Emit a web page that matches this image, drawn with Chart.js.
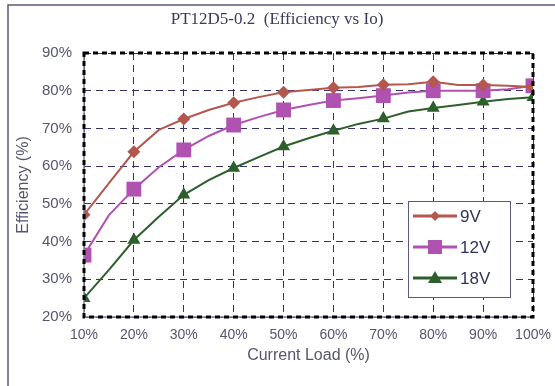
<!DOCTYPE html>
<html>
<head>
<meta charset="utf-8">
<script src="https://cdn.jsdelivr.net/npm/chart.js@4"></script>
<style>
  html, body { margin: 0; padding: 0; background: #ffffff; }
  #wrap { width: 555px; height: 386px; position: relative; }
</style>
</head>
<body>
<div id="wrap"><canvas id="c" width="555" height="386"></canvas></div>
<script>
// ---- data ----
const loads = [10, 15, 20, 25, 30, 35, 40, 45, 50, 55, 60, 65, 70, 75, 80, 85, 90, 95, 100];
const eff9V  = [47.1, 55.5, 63.8, 69.6, 72.5, 74.9, 76.8, 78.3, 79.6, 80.2, 80.8, 81.0, 81.6, 81.7, 82.4, 81.5, 81.5, 81.3, 81.0];
const eff12V = [36.4, 47.0, 53.9, 59.7, 64.3, 68.0, 70.9, 73.0, 74.9, 76.2, 77.4, 78.0, 78.7, 79.5, 80.0, 80.0, 80.0, 80.4, 81.3];
const eff18V = [25.0, 32.5, 40.4, 46.6, 52.4, 56.3, 59.5, 62.4, 65.2, 67.4, 69.4, 71.2, 72.6, 74.5, 75.4, 76.2, 77.1, 77.8, 78.3];
const seriesNames = ['9V', '12V', '18V'];
const xTicks = [10, 20, 30, 40, 50, 60, 70, 80, 90, 100];
const yTicks = [20, 30, 40, 50, 60, 70, 80, 90];
const chartTitle = 'PT12D5-0.2  (Efficiency vs Io)';
const xTitle = 'Current Load (%)';
const yTitle = 'Efficiency (%)';

const colors = ['#b3574f', '#b052b0', '#2d5f2d'];
const styles = ['rectRot', 'rect', 'triangle'];
const radii = [6.5, 10.5, 7.5];

function toPoints(arr) { return loads.map((x, i) => ({ x: x, y: arr[i] })); }
const markerRadius = (r) => (ctx) => (loads[ctx.dataIndex] % 10 === 0 ? r : 0);

const datasets = [eff9V, eff12V, eff18V].map((arr, k) => ({
  label: seriesNames[k],
  data: toPoints(arr),
  borderColor: colors[k],
  backgroundColor: colors[k],
  pointBackgroundColor: colors[k],
  pointBorderColor: colors[k],
  pointStyle: styles[k],
  pointRadius: markerRadius(radii[k]),
  pointBorderWidth: 0,
  borderWidth: 2,
  tension: 0
}));

const decor = {
  id: 'decor',
  beforeDraw(chart) {
    const ctx = chart.ctx;
    ctx.save();
    ctx.fillStyle = '#ffffff';
    ctx.fillRect(0, 0, chart.width, chart.height);
    // outer frame (top and left)
    ctx.strokeStyle = '#5a5a7e';
    ctx.lineWidth = 1.5;
    ctx.beginPath();
    ctx.moveTo(8, 386);
    ctx.lineTo(8, 5);
    ctx.lineTo(555, 5);
    ctx.stroke();
    // title
    ctx.fillStyle = '#3a3a5c';
    ctx.font = '17px "Liberation Serif", "DejaVu Serif", serif';
    ctx.textAlign = 'center';
    ctx.textBaseline = 'middle';
    ctx.fillText(chartTitle, 277, 20);
    ctx.restore();
  },
  afterDatasetsDraw(chart) {
    const ctx = chart.ctx;
    const a = chart.chartArea;
    ctx.save();
    // thin grey axis lines
    ctx.strokeStyle = '#7a7a9a';
    ctx.lineWidth = 1.5;
    ctx.beginPath();
    ctx.moveTo(a.left, a.top);
    ctx.lineTo(a.left, a.bottom);
    ctx.lineTo(a.right, a.bottom);
    ctx.stroke();
    // black dashed plot frame
    ctx.strokeStyle = '#000000';
    ctx.lineWidth = 3;
    ctx.setLineDash([5, 4]);
    ctx.strokeRect(a.left, a.top, a.right - a.left, a.bottom - a.top);
    ctx.setLineDash([]);
    ctx.restore();
  },
  afterDraw(chart) {
    const ctx = chart.ctx;
    ctx.save();
    // legend box
    const bx = 408, by = 201, bw = 102, bh = 96;
    ctx.fillStyle = '#ffffff';
    ctx.fillRect(bx, by, bw, bh);
    ctx.strokeStyle = '#5a5a7e';
    ctx.lineWidth = 1;
    ctx.strokeRect(bx + 0.5, by + 0.5, bw, bh);
    const rows = [216, 247, 278];
    chart.data.datasets.forEach((ds, k) => {
      const y = rows[k];
      ctx.strokeStyle = ds.borderColor;
      ctx.lineWidth = 3;
      ctx.beginPath();
      ctx.moveTo(413, y);
      ctx.lineTo(457, y);
      ctx.stroke();
      ctx.fillStyle = ds.borderColor;
      const cx = 435;
      ctx.beginPath();
      if (k === 0) {
        ctx.moveTo(cx, y - 5); ctx.lineTo(cx + 5, y); ctx.lineTo(cx, y + 5); ctx.lineTo(cx - 5, y);
      } else if (k === 1) {
        ctx.rect(cx - 7, y - 7, 14, 14);
      } else {
        ctx.moveTo(cx, y - 7); ctx.lineTo(cx + 7, y + 5); ctx.lineTo(cx - 7, y + 5);
      }
      ctx.closePath();
      ctx.fill();
      ctx.fillStyle = '#33335a';
      ctx.font = '17px "Liberation Sans", Arial, sans-serif';
      ctx.textAlign = 'left';
      ctx.textBaseline = 'middle';
      ctx.fillText(ds.label, 460, y + 1);
    });
    ctx.restore();
  }
};

const tickFont = { family: '"Liberation Sans", Arial, sans-serif', size: 14 };
const gridStyle = { color: '#34346a', lineWidth: 1, drawTicks: false };

new Chart(document.getElementById('c'), {
  type: 'line',
  data: { datasets: datasets },
  options: {
    responsive: false,
    animation: false,
    devicePixelRatio: 1,
    layout: { padding: { left: 8, right: 22, top: 53, bottom: 21 } },
    plugins: { legend: { display: false }, title: { display: false }, tooltip: { enabled: false } },
    scales: {
      x: {
        type: 'linear',
        min: 10, max: 100,
        afterBuildTicks(scale) { scale.ticks = xTicks.map(v => ({ value: v })); },
        afterFit(scale) { scale.height = 48; scale.paddingRight = 0; scale.paddingLeft = 0; },
        ticks: { callback: v => v + '%', color: '#55556e', font: tickFont, padding: 10, maxRotation: 0, autoSkip: false },
        grid: gridStyle,
        border: { display: false, dash: [7, 5] },
        title: { display: true, text: xTitle, color: '#55556e', font: { family: '"Liberation Sans", Arial, sans-serif', size: 16 }, padding: { top: 2, bottom: 0 } }
      },
      y: {
        min: 20, max: 90,
        afterBuildTicks(scale) { scale.ticks = yTicks.map(v => ({ value: v })); },
        afterFit(scale) { scale.width = 76; },
        ticks: { callback: v => v + '%', color: '#55556e', font: { family: '"Liberation Sans", Arial, sans-serif', size: 15 }, padding: 12 },
        grid: gridStyle,
        border: { display: false, dash: [7, 5] },
        title: { display: true, text: yTitle, color: '#55556e', font: { family: '"Liberation Sans", Arial, sans-serif', size: 16 }, padding: { top: 6, bottom: 0 } }
      }
    }
  },
  plugins: [decor]
});
</script>
</body>
</html>
